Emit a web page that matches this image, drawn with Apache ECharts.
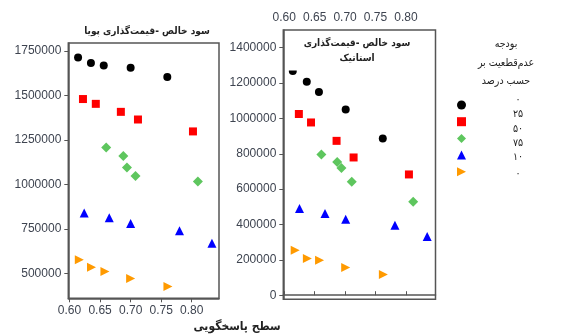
<!DOCTYPE html>
<html><head><meta charset="utf-8">
<script src="https://cdn.jsdelivr.net/npm/echarts@6/dist/echarts.min.js"></script>
<style>html,body{margin:0;padding:0;background:#fff}#c{width:563px;height:335px}</style>
</head><body><div id="c"></div>
<script>
// tick labels
const xTicks = [0.60, 0.65, 0.70, 0.75, 0.80];
const leftYTicks = [500000, 750000, 1000000, 1250000, 1500000, 1750000];
const rightYTicks = [0, 200000, 400000, 600000, 800000, 1000000, 1200000, 1400000];
// legend categories (uncertainty budget %)
const legendLabels = ['۰', '۲۵', '۵۰', '۷۵', '۱۰', '۰'];
const seriesKeys = ['b0', 'b25', 'b50', 'b75', 'b100'];
// dynamic pricing (left panel)
const dyn0x = [0.614, 0.635, 0.656, 0.700, 0.760];
const dyn0y = [1714000, 1682000, 1669000, 1656000, 1604000];
const dyn25x = [0.622, 0.643, 0.684, 0.712, 0.802];
const dyn25y = [1480000, 1453000, 1408000, 1365000, 1298000];
const dyn50x = [0.660, 0.688, 0.694, 0.708, 0.810];
const dyn50y = [1208000, 1160000, 1095000, 1048000, 1016000];
const dyn75x = [0.624, 0.665, 0.700, 0.780, 0.833];
const dyn75y = [840000, 813000, 780000, 740000, 669000];
const dyn100x = [0.616, 0.636, 0.658, 0.700, 0.761];
const dyn100y = [577000, 534000, 511000, 471000, 426000];
// static pricing (right panel)
const sta0x = [0.614, 0.637, 0.657, 0.701, 0.762];
const sta0y = [1268000, 1207000, 1149000, 1051000, 887000];
const sta25x = [0.624, 0.644, 0.686, 0.714, 0.805];
const sta25y = [1025000, 977000, 873000, 779000, 683000];
const sta50x = [0.661, 0.687, 0.694, 0.711, 0.812];
const sta50y = [796000, 754000, 720000, 641000, 528000];
const sta75x = [0.625, 0.667, 0.701, 0.782, 0.835];
const sta75y = [491000, 462000, 430000, 396000, 332000];
const sta100x = [0.618, 0.638, 0.658, 0.701, 0.763];
const sta100y = [254000, 207000, 198000, 156000, 117000];

const zip = (xs, ys) => xs.map((x, i) => [x, ys[i]]);
const rightTri = 'path://M0,0L10,5L0,10Z';
const diamondPath = 'path://M5,0L10,5L5,10L0,5Z';
const styles = [
  {symbol: 'circle', size: 8, color: '#000000', legendIcon: 'circle'},
  {symbol: 'rect', size: 8, color: '#ff0000', legendIcon: 'rect'},
  {symbol: 'diamond', size: 10, color: '#5ec65e', legendIcon: diamondPath},
  {symbol: 'triangle', size: 9, color: '#0000ff', legendIcon: 'triangle'},
  {symbol: rightTri, size: 9, color: '#ff9a00', legendIcon: rightTri}
];
const dynData = [zip(dyn0x, dyn0y), zip(dyn25x, dyn25y), zip(dyn50x, dyn50y), zip(dyn75x, dyn75y), zip(dyn100x, dyn100y)];
const staData = [zip(sta0x, sta0y), zip(sta25x, sta25y), zip(sta50x, sta50y), zip(sta75x, sta75y), zip(sta100x, sta100y)];

const series = [];
[dynData, staData].forEach((set, gi) => {
  set.forEach((d, i) => {
    const s = styles[i];
    series.push({
      type: 'scatter', name: seriesKeys[i], xAxisIndex: gi, yAxisIndex: gi,
      data: d, symbol: s.symbol, symbolSize: s.size,
      itemStyle: {color: s.color, opacity: 1}, z: 3
    });
  });
});

const axisCol = '#555555';
const labCol = '#3e4450';
const numFont = 'Liberation Sans';
const farsi = '"DejaVu Sans Condensed", "DejaVu Sans"';

function xAxis(idx, pos, min, max) {
  return {
    type: 'value', gridIndex: idx, position: pos, min: min, max: max,
    axisLine: {show: true, lineStyle: {color: axisCol, width: 1.5}},
    axisTick: {show: true, length: 4, lineStyle: {color: axisCol}, customValues: xTicks},
    axisLabel: {color: labCol, fontSize: 12, fontFamily: numFont, margin: 6,
      customValues: xTicks, formatter: v => v.toFixed(2)},
    splitLine: {show: false}
  };
}
function yAxis(idx, min, max, ticks) {
  return {
    type: 'value', gridIndex: idx, min: min, max: max,
    axisLine: {show: true, lineStyle: {color: axisCol, width: 1.5}},
    axisTick: {show: true, length: 4, lineStyle: {color: axisCol}, customValues: ticks},
    axisLabel: {color: labCol, fontSize: 12, fontFamily: numFont, margin: 7, customValues: ticks,
      formatter: v => String(Math.round(v))},
    splitLine: {show: false}
  };
}

function txt(t, x, y, font) {
  return {type: 'text', x: x, y: y, z: 100,
    style: {text: t, font: font, fill: '#222', align: 'center', verticalAlign: 'middle'}};
}
const legendY = [100, 114, 129, 143, 157.7, 174];
const graphics = [
  txt('سود خالص -قیمت‌گذاری پویا', 147, 31, 'bold 10px ' + farsi),
  {type: 'rect', shape: {x: 285, y: 31.5, width: 148, height: 39}, z: 90, style: {fill: '#ffffff'}},
  txt('سود خالص -قیمت‌گذاری', 357, 43, 'bold 10px ' + farsi),
  txt('استاتیک', 357, 58, 'bold 10px ' + farsi),
  txt('بودجه', 506, 44.7, '10.5px ' + farsi),
  txt('عدم‌قطعیت بر', 506, 63.3, '10.5px ' + farsi),
  txt('حسب درصد', 506, 81.7, '10.5px ' + farsi),
  txt('سطح پاسخگویی', 237, 327, 'bold 12px ' + farsi)
];
legendLabels.forEach((t, i) => graphics.push(txt(t, 518, legendY[i], '10.5px ' + farsi)));

const chart = echarts.init(document.getElementById('c'), null, {renderer: 'canvas'});
chart.setOption({
  animation: false,
  backgroundColor: '#ffffff',
  grid: [
    {left: 68.3, top: 43, width: 150.7, height: 255.3, show: true, borderColor: axisCol, borderWidth: 1.5, backgroundColor: 'transparent'},
    {left: 283.3, top: 30, width: 152.2, height: 269.3, show: true, borderColor: axisCol, borderWidth: 1.5, backgroundColor: 'transparent'}
  ],
  xAxis: [xAxis(0, 'bottom', 0.598, 0.8446), xAxis(1, 'top', 0.5984, 0.8487)],
  yAxis: [yAxis(0, 360000, 1795000, leftYTicks), yAxis(1, -23200, 1500000, rightYTicks)],
  legend: {
    orient: 'vertical', left: 457, top: 100.5, padding: 0, itemWidth: 9, itemHeight: 9, itemGap: 7.7,
    data: seriesKeys.map((k, i) => ({name: k, icon: styles[i].legendIcon})),
    formatter: () => '', selectedMode: false,
    textStyle: {fontSize: 1}
  },
  graphic: graphics,
  series: series
});
</script></body></html>
